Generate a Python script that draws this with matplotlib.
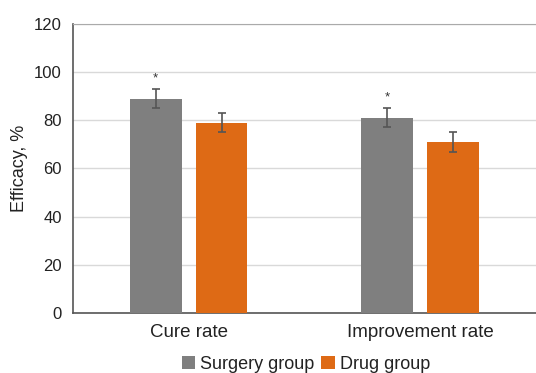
import numpy as np
import matplotlib.pyplot as plt

plt.rcParams['font.family'] = ['Liberation Sans', 'DejaVu Sans']

# data
categories = ['Cure rate', 'Improvement rate']
surgery = [89, 81]
surgery_err = [4, 4]
drug = [79, 71]
drug_err = [4, 4]
stars = ['*', '*']

fig = plt.figure(figsize=(5.36, 3.73), dpi=100)
ax = fig.add_axes([0.136, 0.161, 0.864, 0.775])

x = np.arange(len(categories))
w = 0.224
off = 0.142

err_kw = dict(ecolor='#555555', elinewidth=1.2, capsize=3, capthick=1.2)
ax.bar(x - off, surgery, w, yerr=surgery_err, color='#7f7f7f', label='Surgery group',
       error_kw=err_kw, zorder=3)
ax.bar(x + off, drug, w, yerr=drug_err, color='#de6a15', label='Drug group',
       error_kw=err_kw, zorder=3)

# significance markers
for i, s in enumerate(stars):
    ax.text(x[i] - off, surgery[i] + surgery_err[i] + 2.0, s, ha='center', va='bottom',
            fontsize=9.5, color='#333333')

ax.set_xlim(-0.5, 1.5)
ax.set_ylim(0, 120)
ax.set_yticks(np.arange(0, 121, 20))
ax.set_xticks(x)
ax.set_xticklabels(categories)
ax.tick_params(axis='both', length=0, colors='#222222')
ax.tick_params(axis='y', labelsize=12, pad=8)
ax.tick_params(axis='x', labelsize=13.5, pad=8)
ax.set_ylabel('Efficacy, %', fontsize=13, color='#222222', labelpad=4)

ax.yaxis.grid(True, color='#d9d9d9', linewidth=1, zorder=0)
ax.set_axisbelow(True)
ax.spines['right'].set_visible(False)
ax.spines['top'].set_color('#aaaaaa')
ax.spines['left'].set_color('#555555')
ax.spines['bottom'].set_color('#555555')
ax.spines['left'].set_linewidth(1.2)
ax.spines['bottom'].set_linewidth(1.2)

ax.legend(loc='center', bbox_to_anchor=(0.503, -0.178), ncol=2, frameon=False,
          fontsize=13, handlelength=0.75, handleheight=0.75, handletextpad=0.25,
          columnspacing=0.4, labelcolor='#222222', borderaxespad=0, borderpad=0)

plt.savefig('out.png', dpi=100)
